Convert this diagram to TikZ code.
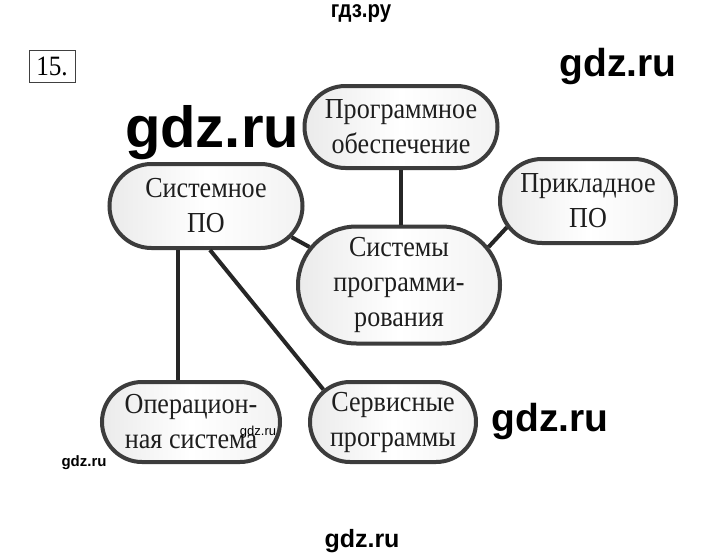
\documentclass[tikz,border=0pt]{standalone}
\usepackage{fontspec}
\setmainfont{Liberation Serif}
\newfontfamily\nodefont[FakeStretch=0.9]{Liberation Serif}
\newfontfamily\wmfont{Liberation Sans}
\usetikzlibrary{shapes.misc}
\definecolor{bord}{HTML}{3C3C3C}
\definecolor{txt}{HTML}{1E1E1E}
\tikzset{
  blob/.style={rounded rectangle, draw=bord, line width=4pt, inner sep=0pt,
    left color=gray!16, right color=gray!10, middle color=white,
    align=center, text=txt, font=\nodefont\fontsize{29}{35}\selectfont},
  link/.style={line width=4pt, draw=black!85},
  wm/.style={text=black, inner sep=0pt}
}
\begin{document}
\begin{tikzpicture}[x=1pt,y=-1pt]
\useasboundingbox[fill=white] (0,0) rectangle (720,557);
% watermarks
\node[wm, font=\wmfont\bfseries\fontsize{24}{24}\selectfont, xscale=0.85] (w1) at (361,14) {гдз.ру};
\node[wm, font=\wmfont\bfseries\fontsize{39}{39}\selectfont] (w2) at (618,67) {gdz.ru};
\node[wm, font=\wmfont\bfseries\fontsize{58}{58}\selectfont] (w3) at (212,133) {gdz.ru};
\node[wm, font=\wmfont\bfseries\fontsize{39}{39}\selectfont] (w4) at (550,421) {gdz.ru};
\node[wm, font=\wmfont\bfseries\fontsize{25}{25}\selectfont] (w5) at (362,541) {gdz.ru};
% number box
\node[draw=black!75, line width=0.8pt, minimum width=46pt, minimum height=32pt, inner sep=0pt,
  font=\nodefont\fontsize{28}{28}\selectfont] (num) at (52,66) {15.};
% nodes
\node[blob, minimum width=193pt, minimum height=82pt] (prog) at (401,127) {Программное\\обеспечение};
\node[blob, minimum width=193pt, minimum height=84pt] (syspo) at (206,206) {Системное\\ПО};
\node[blob, minimum width=176pt, minimum height=84pt] (prik) at (588,201) {Прикладное\\ПО};
\node[blob, minimum width=202pt, minimum height=117pt] (sys) at (399,285) {Системы\\программи-\\рования};
\node[blob, minimum width=178pt, minimum height=80pt] (os) at (191,422) {Операцион-\\ная система};
\node[blob, minimum width=166pt, minimum height=80pt] (serv) at (393,422) {Сервисные\\программы};
% connectors
\draw[link] (prog.south) -- (prog.south |- sys.north);
\draw[link] (syspo.-20) -- (sys.157);
\draw[link] (prik.-162) -- (sys.23);
\draw[link] ([xshift=-28pt]syspo.south) -- ([xshift=-28pt]syspo.south |- os.north);
\draw[link] ([xshift=4pt]syspo.south) -- (serv.155);
% small watermarks on top
\node[wm, font=\wmfont\bfseries\fontsize{15}{15}\selectfont] (w6) at (84,463) {gdz.ru};
\node[wm, font=\wmfont\fontsize{13}{13}\selectfont] (w7) at (258,432) {gdz.ru};
\end{tikzpicture}
\end{document}
